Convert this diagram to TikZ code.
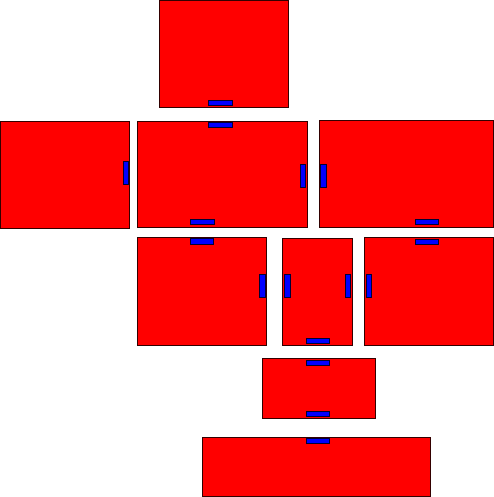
\documentclass[tikz,border=0pt]{standalone}
\begin{document}
\begin{tikzpicture}[x=1pt,y=-1pt,
  room/.style={fill=red,draw=black!80!red,line width=0.8pt},
  port/.style={fill=blue,draw=black!80!blue,line width=0.8pt}]
\useasboundingbox (0,0) rectangle (494,497);
% rooms
\draw[room] (159.5,0.5) rectangle (288.5,107);
\draw[room] (0.5,121) rectangle (129.5,228);
\draw[room] (137.5,121) rectangle (307.5,227);
\draw[room] (319.5,120.5) rectangle (493.5,227);
\draw[room] (137.5,237) rectangle (266.5,345);
\draw[room] (282.5,238) rectangle (352.5,345);
\draw[room] (364.5,237) rectangle (493.5,345);
\draw[room] (262.5,358.5) rectangle (375.5,418.5);
\draw[room] (202.5,437.5) rectangle (430.5,496.5);
% ports
\draw[port] (208,100) rectangle (232,105.5);
\draw[port] (208,122.5) rectangle (232,127.5);
\draw[port] (190,219) rectangle (214,224.5);
\draw[port] (300,164.5) rectangle (305.5,187.5);
\draw[port] (123.5,161) rectangle (128.5,184.5);
\draw[port] (320,164) rectangle (326,187.5);
\draw[port] (415.5,219) rectangle (438.5,224.5);
\draw[port] (190,238.5) rectangle (213.5,244);
\draw[port] (259.5,274) rectangle (265,297.5);
\draw[port] (284.5,274) rectangle (290,297.5);
\draw[port] (345.5,274) rectangle (350.5,297.5);
\draw[port] (366.5,274) rectangle (371.5,297.5);
\draw[port] (415.5,239) rectangle (438.5,244.5);
\draw[port] (306.5,338) rectangle (329.5,343.5);
\draw[port] (306.5,360.5) rectangle (329.5,365.5);
\draw[port] (306.5,411) rectangle (329.5,416.5);
\draw[port] (306.5,438) rectangle (329.5,443.5);
\end{tikzpicture}
\end{document}
